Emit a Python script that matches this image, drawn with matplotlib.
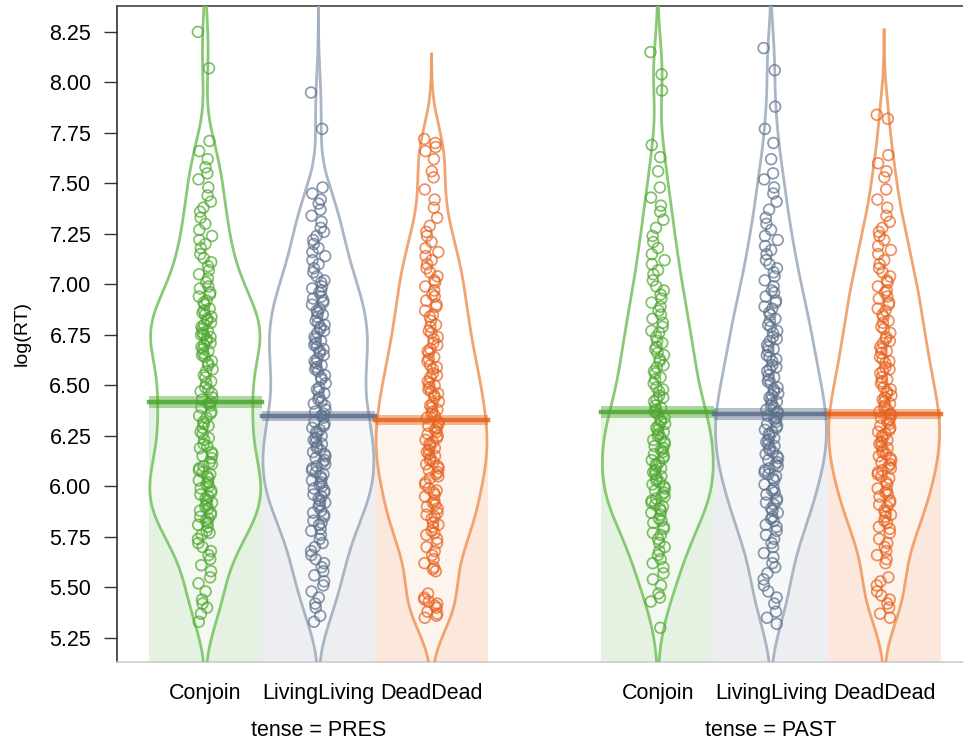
import matplotlib
matplotlib.use("Agg")
import matplotlib.pyplot as plt
import numpy as np

plt.rcParams["font.family"] = ["Liberation Sans", "DejaVu Sans"]

CATEGORIES = ["Conjoin", "LivingLiving", "DeadDead"]
TENSES = ["PRES", "PAST"]

# mean log(RT) per bean
MEANS_PRES = [6.42, 6.35, 6.33]
MEANS_PAST = [6.37, 6.36, 6.36]
# half height of the inference band around each mean
BAND_PRES = [0.03, 0.025, 0.025]
BAND_PAST = [0.03, 0.03, 0.025]

pres_conjoin = [
    8.25, 8.07, 7.71, 7.66, 7.62, 7.58, 7.55, 7.52,
    7.48, 7.44, 7.41, 7.38, 7.36, 7.33, 7.30, 7.27,
    7.24, 7.22, 7.20, 7.18, 7.15, 7.13, 7.11, 7.09, 7.07, 7.05, 7.03, 7.01,
    6.99, 6.98, 6.96, 6.95, 6.94, 6.92, 6.91, 6.90, 6.88, 6.87, 6.86, 6.85, 6.84, 6.83, 6.82,
    6.81, 6.80, 6.79, 6.78, 6.77, 6.76, 6.75, 6.75,
    6.74, 6.73, 6.72, 6.71, 6.70, 6.69, 6.68, 6.67, 6.66, 6.65, 6.64, 6.62, 6.61, 6.60, 6.58,
    6.57, 6.55, 6.54, 6.52, 6.51,
    6.49, 6.48, 6.47, 6.46, 6.44, 6.43, 6.42, 6.41, 6.40, 6.39, 6.37, 6.36, 6.35, 6.34, 6.32,
    6.31, 6.30, 6.29, 6.27, 6.26,
    6.24, 6.23, 6.21, 6.20, 6.19, 6.17, 6.16, 6.15, 6.14, 6.12, 6.11, 6.10, 6.09, 6.08, 6.07,
    6.06, 6.05, 6.04, 6.03, 6.02, 6.01, 6.00,
    5.99, 5.98, 5.97, 5.96, 5.95, 5.94, 5.93, 5.92, 5.91, 5.90, 5.89, 5.88, 5.87, 5.86, 5.85,
    5.84, 5.83, 5.82, 5.81, 5.80, 5.78, 5.77, 5.76,
    5.74, 5.72, 5.70, 5.68, 5.66, 5.64, 5.61, 5.58, 5.55, 5.52,
    5.48, 5.44, 5.42, 5.40, 5.37, 5.33,
]
pres_living = [
    7.95, 7.77,
    7.48, 7.45, 7.42, 7.40, 7.37, 7.34, 7.31, 7.28, 7.26,
    7.24, 7.22, 7.20, 7.18, 7.16, 7.14, 7.12, 7.10, 7.08, 7.06, 7.04, 7.02, 7.01,
    6.99, 6.98, 6.97, 6.96, 6.94, 6.93, 6.92, 6.91, 6.90, 6.88, 6.87, 6.86, 6.85, 6.84, 6.82,
    6.81, 6.80, 6.79, 6.78, 6.77, 6.76,
    6.74, 6.73, 6.72, 6.71, 6.70, 6.69, 6.68, 6.67, 6.66, 6.65, 6.63, 6.62, 6.61, 6.60, 6.59,
    6.58, 6.57, 6.55, 6.54, 6.53, 6.51,
    6.49, 6.48, 6.47, 6.46, 6.44, 6.43, 6.42, 6.41, 6.40, 6.38, 6.37, 6.36, 6.35, 6.34, 6.32,
    6.31, 6.30, 6.29, 6.28, 6.27, 6.26,
    6.25, 6.24, 6.23, 6.22, 6.21, 6.20, 6.19, 6.18, 6.17, 6.16, 6.15, 6.14, 6.13, 6.12, 6.11,
    6.10, 6.09, 6.08, 6.07, 6.06, 6.05, 6.04, 6.03, 6.02, 6.01, 6.00,
    5.99, 5.98, 5.97, 5.96, 5.95, 5.94, 5.93, 5.92, 5.91, 5.90, 5.88, 5.87, 5.86, 5.85, 5.83,
    5.82, 5.81, 5.79, 5.78, 5.76,
    5.74, 5.72, 5.70, 5.68, 5.66, 5.64, 5.62, 5.60, 5.58, 5.56, 5.53, 5.51,
    5.48, 5.45, 5.42, 5.40, 5.36, 5.33,
]
pres_dead = [
    7.72, 7.70, 7.68, 7.66, 7.62, 7.56, 7.53,
    7.47, 7.42, 7.38, 7.33, 7.29, 7.26,
    7.24, 7.21, 7.18, 7.16, 7.14, 7.12, 7.10, 7.08, 7.06, 7.04, 7.02, 7.01,
    6.99, 6.97, 6.95, 6.94, 6.92, 6.90, 6.89, 6.87, 6.85, 6.84, 6.82, 6.80, 6.79, 6.77, 6.76,
    6.74, 6.73, 6.71, 6.70, 6.68, 6.67, 6.66, 6.64, 6.63, 6.62, 6.60, 6.59, 6.58, 6.56, 6.55,
    6.54, 6.52, 6.51, 6.50,
    6.49, 6.48, 6.47, 6.46, 6.45, 6.44, 6.42, 6.41, 6.40, 6.39, 6.38, 6.37, 6.36, 6.35, 6.34,
    6.32, 6.31, 6.30, 6.29, 6.28, 6.27, 6.26,
    6.25, 6.24, 6.23, 6.22, 6.21, 6.20, 6.19, 6.18, 6.17, 6.16, 6.15, 6.14, 6.13, 6.12, 6.11,
    6.10, 6.09, 6.08, 6.07, 6.06, 6.05, 6.04, 6.02, 6.01,
    5.99, 5.98, 5.97, 5.96, 5.95, 5.93, 5.92, 5.91, 5.90, 5.89, 5.87, 5.86, 5.85, 5.84, 5.82,
    5.81, 5.80, 5.78, 5.77, 5.76,
    5.74, 5.72, 5.70, 5.68, 5.66, 5.64, 5.62, 5.60, 5.59, 5.58,
    5.47, 5.45, 5.44, 5.43, 5.42, 5.41, 5.40, 5.38, 5.37, 5.36, 5.35,
]
past_conjoin = [
    8.15, 8.04, 7.96, 7.69, 7.63, 7.56,
    7.48, 7.43, 7.39, 7.36, 7.32, 7.28,
    7.24, 7.21, 7.18, 7.15, 7.12, 7.10, 7.07, 7.05, 7.02,
    6.99, 6.97, 6.95, 6.93, 6.91, 6.89, 6.87, 6.85, 6.83, 6.81, 6.79, 6.77, 6.76,
    6.74, 6.72, 6.71, 6.69, 6.68, 6.66, 6.65, 6.63, 6.62, 6.60, 6.59, 6.57, 6.56, 6.54, 6.53, 6.51,
    6.49, 6.48, 6.47, 6.45, 6.44, 6.43, 6.42, 6.40, 6.39, 6.38, 6.37, 6.36, 6.34, 6.33, 6.32,
    6.31, 6.30, 6.29, 6.28, 6.27, 6.26,
    6.25, 6.24, 6.23, 6.22, 6.21, 6.20, 6.19, 6.18, 6.17, 6.16, 6.15, 6.14, 6.13, 6.12, 6.11,
    6.10, 6.09, 6.08, 6.07, 6.06, 6.05, 6.04, 6.03, 6.02, 6.01, 6.00,
    5.99, 5.98, 5.97, 5.96, 5.95, 5.94, 5.93, 5.92, 5.91, 5.90, 5.89, 5.88, 5.87, 5.86, 5.84,
    5.83, 5.82, 5.80, 5.79, 5.77, 5.76,
    5.74, 5.72, 5.70, 5.68, 5.66, 5.64, 5.62, 5.60, 5.57, 5.54, 5.51,
    5.47, 5.45, 5.43, 5.30,
]
past_living = [
    8.17, 8.06, 7.88, 7.77, 7.70, 7.62, 7.55, 7.52,
    7.48, 7.45, 7.41, 7.37, 7.33, 7.30, 7.27,
    7.24, 7.22, 7.19, 7.17, 7.15, 7.12, 7.10, 7.08, 7.06, 7.04, 7.02,
    6.99, 6.97, 6.96, 6.94, 6.92, 6.91, 6.89, 6.88, 6.86, 6.85, 6.83, 6.82, 6.80, 6.79, 6.77, 6.76,
    6.74, 6.73, 6.72, 6.70, 6.69, 6.68, 6.67, 6.65, 6.64, 6.63, 6.62, 6.60, 6.59, 6.58, 6.57,
    6.55, 6.54, 6.53, 6.52, 6.51,
    6.49, 6.48, 6.47, 6.46, 6.45, 6.44, 6.43, 6.42, 6.41, 6.40, 6.39, 6.38, 6.37, 6.36, 6.35,
    6.34, 6.33, 6.32, 6.31, 6.30, 6.29, 6.28, 6.27, 6.26,
    6.25, 6.24, 6.23, 6.22, 6.21, 6.20, 6.19, 6.18, 6.17, 6.16, 6.15, 6.14, 6.13, 6.12, 6.11,
    6.10, 6.09, 6.08, 6.07, 6.06, 6.05, 6.04, 6.03, 6.01,
    5.99, 5.98, 5.97, 5.96, 5.94, 5.93, 5.92, 5.91, 5.89, 5.88, 5.87, 5.85, 5.84, 5.83, 5.81,
    5.80, 5.78, 5.76,
    5.74, 5.72, 5.70, 5.67, 5.65, 5.62, 5.60, 5.57, 5.54, 5.51,
    5.48, 5.45, 5.42, 5.38, 5.35, 5.32,
]
past_dead = [
    7.84, 7.82, 7.64, 7.60, 7.56, 7.53,
    7.47, 7.42, 7.38, 7.34, 7.31, 7.28, 7.26,
    7.24, 7.22, 7.19, 7.17, 7.15, 7.12, 7.10, 7.08, 7.06, 7.04, 7.02, 7.01,
    6.99, 6.97, 6.96, 6.94, 6.93, 6.91, 6.90, 6.88, 6.87, 6.85, 6.84, 6.82, 6.81, 6.79, 6.78, 6.76,
    6.74, 6.73, 6.72, 6.71, 6.69, 6.68, 6.67, 6.66, 6.64, 6.63, 6.62, 6.61, 6.59, 6.58, 6.57,
    6.56, 6.54, 6.53, 6.52, 6.51,
    6.49, 6.48, 6.47, 6.46, 6.45, 6.44, 6.43, 6.42, 6.41, 6.40, 6.39, 6.38, 6.37, 6.36, 6.35,
    6.34, 6.33, 6.32, 6.31, 6.30, 6.29, 6.28, 6.27, 6.26,
    6.25, 6.24, 6.23, 6.22, 6.21, 6.20, 6.19, 6.18, 6.17, 6.16, 6.15, 6.14, 6.13, 6.12, 6.11,
    6.10, 6.09, 6.08, 6.07, 6.06, 6.05, 6.04, 6.02, 6.01,
    5.99, 5.98, 5.97, 5.96, 5.95, 5.93, 5.92, 5.91, 5.90, 5.88, 5.87, 5.86, 5.85, 5.83, 5.82,
    5.80, 5.79, 5.77,
    5.74, 5.72, 5.70, 5.68, 5.66, 5.64, 5.62, 5.55, 5.53, 5.51,
    5.48, 5.46, 5.44, 5.42, 5.40, 5.37, 5.35,
]

POINT_COLORS = ["#4DA72E", "#5C6F8A", "#E8621D"]
LINE_COLORS = ["#7BC467", "#A1AEBD", "#F09A62"]
BAR_COLORS = ["#E6F2E1", "#ECEEF2", "#FBE7DB"]

YMIN, YMAX = 5.131, 8.379
BW = 0.14
FONT = 15.5


def _kde(values: np.ndarray, grid: np.ndarray) -> np.ndarray:
    z = (grid[:, None] - values[None, :]) / BW
    return np.exp(-0.5 * z ** 2).sum(axis=1)


def _bean(ax, x, values, mean, band, k):
    values = np.asarray(values)
    ax.bar(x, mean, width=1.0, bottom=0, color=BAR_COLORS[k], edgecolor="none", zorder=1)

    grid = np.linspace(values.min() - 3 * BW, values.max() + 3 * BW, 512)
    dens = _kde(values, grid)
    half = dens / dens.max() * 0.49
    ax.fill_betweenx(grid, x - half, x + half, color="white", alpha=0.55, lw=0, zorder=2)
    ax.plot(x - half, grid, color=LINE_COLORS[k], lw=2, alpha=0.9, zorder=3)
    ax.plot(x + half, grid, color=LINE_COLORS[k], lw=2, alpha=0.9, zorder=3)

    # deterministic, irregular-looking horizontal spread of the points
    idx = np.arange(len(values))
    spread = (idx * 0.618034 + (idx * idx) * 0.137) % 1.0
    jitter = (spread - 0.5) * 0.13
    ax.scatter(x + jitter, values, s=60, facecolors="none", edgecolors=POINT_COLORS[k],
               linewidths=1.25, alpha=0.7, zorder=4)

    ax.fill_between([x - 0.5, x + 0.5], mean - band, mean + band, color=POINT_COLORS[k],
                    alpha=0.45, lw=0, zorder=5)
    ax.plot([x - 0.5, x + 0.5], [mean, mean], color=POINT_COLORS[k], lw=3.2, alpha=0.85,
            zorder=6)


def main() -> None:
    fig = plt.figure(figsize=(9.63, 7.49), dpi=100)
    ax = fig.add_axes([0.1215, 0.1162, 0.88, 0.876])

    groups = {
        "PRES": ([pres_conjoin, pres_living, pres_dead], MEANS_PRES, BAND_PRES, 0),
        "PAST": ([past_conjoin, past_living, past_dead], MEANS_PAST, BAND_PAST, 4),
    }
    ticks, labels = [], []
    for tense, (series, means, bands, start) in groups.items():
        for k, values in enumerate(series):
            x = start + k
            _bean(ax, x, values, means[k], bands[k], k)
            ticks.append(x)
            labels.append(CATEGORIES[k])
        ax.text(start + 1, -0.105, f"tense = {tense}", transform=ax.get_xaxis_transform(),
                ha="center", va="center", fontsize=FONT)

    ax.set_xlim(-0.78, 6.71)
    ax.set_ylim(YMIN, YMAX)
    ax.set_xticks(ticks)
    ax.set_xticklabels(labels, fontsize=FONT)
    ax.tick_params(axis="x", length=0, pad=15)
    ax.set_yticks(np.arange(5.25, 8.26, 0.25))
    ax.set_yticklabels([f"{v:.2f}" for v in np.arange(5.25, 8.26, 0.25)], fontsize=FONT)
    ax.tick_params(axis="y", direction="out", length=9.5, width=1, color="#333333", pad=9)
    ax.set_ylabel("log(RT)", fontsize=14)
    ax.yaxis.set_label_coords(-0.102, 0.5)

    ax.spines["right"].set_visible(False)
    ax.spines["left"].set_color("#333333")
    ax.spines["top"].set_color("#444444")
    ax.spines["bottom"].set_color("#cccccc")
    for side in ["left", "top", "bottom"]:
        ax.spines[side].set_linewidth(1.2)

    fig.savefig("out.png", dpi=100)
    plt.close(fig)


if __name__ == "__main__":
    main()
